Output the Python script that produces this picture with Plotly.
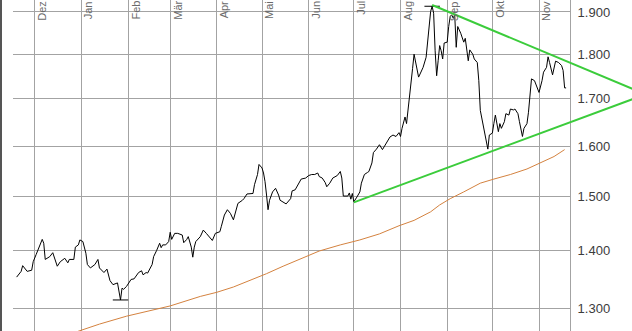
import numpy as np
import pandas as pd
import plotly.graph_objects as go

# ---------------- data ----------------
price_dates = [
    "2010-11-19", "2010-11-22", "2010-11-23", "2010-11-26", "2010-11-29", "2010-11-30",
    "2010-12-02", "2010-12-05", "2010-12-06", "2010-12-07", "2010-12-08", "2010-12-11", "2010-12-13", "2010-12-16",
    "2010-12-18", "2010-12-21", "2010-12-23", "2010-12-24", "2010-12-27", "2010-12-28", "2010-12-30", "2010-12-31",
    "2011-01-02", "2011-01-04", "2011-01-05", "2011-01-07", "2011-01-10", "2011-01-12", "2011-01-13", "2011-01-16",
    "2011-01-18", "2011-01-20", "2011-01-22", "2011-01-25", "2011-01-26", "2011-01-27", "2011-01-28", "2011-01-29",
    "2011-01-31",
    "2011-02-02", "2011-02-03", "2011-02-05", "2011-02-07", "2011-02-08", "2011-02-10", "2011-02-11", "2011-02-13",
    "2011-02-14", "2011-02-17", "2011-02-18", "2011-02-20", "2011-02-21", "2011-02-22", "2011-02-23", "2011-02-24",
    "2011-02-26", "2011-02-28",
    "2011-03-01", "2011-03-02", "2011-03-04", "2011-03-06", "2011-03-09", "2011-03-10", "2011-03-12", "2011-03-13",
    "2011-03-15", "2011-03-16", "2011-03-17", "2011-03-18", "2011-03-21", "2011-03-23", "2011-03-25", "2011-03-27",
    "2011-03-29", "2011-03-31",
    "2011-04-03", "2011-04-04", "2011-04-05", "2011-04-06", "2011-04-08", "2011-04-10", "2011-04-12", "2011-04-14",
    "2011-04-15", "2011-04-18", "2011-04-19", "2011-04-21", "2011-04-25", "2011-04-26", "2011-04-28", "2011-04-29",
    "2011-05-01", "2011-05-02", "2011-05-03", "2011-05-04", "2011-05-05", "2011-05-06", "2011-05-08", "2011-05-10",
    "2011-05-12", "2011-05-13", "2011-05-15", "2011-05-17", "2011-05-20", "2011-05-21", "2011-05-23", "2011-05-25",
    "2011-05-27", "2011-05-30",
    "2011-06-01", "2011-06-03", "2011-06-05", "2011-06-07", "2011-06-08", "2011-06-10", "2011-06-12", "2011-06-13",
    "2011-06-15", "2011-06-17", "2011-06-20", "2011-06-22", "2011-06-23", "2011-06-24", "2011-06-27", "2011-06-28",
    "2011-06-29", "2011-06-30",
    "2011-07-01", "2011-07-03", "2011-07-05", "2011-07-06", "2011-07-08", "2011-07-10", "2011-07-11", "2011-07-13",
    "2011-07-14", "2011-07-16", "2011-07-18", "2011-07-20", "2011-07-21", "2011-07-23", "2011-07-25", "2011-07-27",
    "2011-07-29", "2011-07-31",
    "2011-08-01", "2011-08-02", "2011-08-04", "2011-08-05", "2011-08-06", "2011-08-07", "2011-08-08", "2011-08-09",
    "2011-08-10", "2011-08-11", "2011-08-12", "2011-08-13", "2011-08-14", "2011-08-16", "2011-08-18", "2011-08-19",
    "2011-08-20", "2011-08-21", "2011-08-22", "2011-08-23", "2011-08-24", "2011-08-25", "2011-08-26", "2011-08-27",
    "2011-08-28", "2011-08-29", "2011-08-30",
    "2011-09-01", "2011-09-02", "2011-09-03", "2011-09-04", "2011-09-05", "2011-09-06", "2011-09-07", "2011-09-08",
    "2011-09-10", "2011-09-12", "2011-09-13", "2011-09-15", "2011-09-16", "2011-09-18", "2011-09-19", "2011-09-21",
    "2011-09-22", "2011-09-23", "2011-09-25", "2011-09-26", "2011-09-27", "2011-09-28", "2011-09-29",
    "2011-10-01", "2011-10-02", "2011-10-03", "2011-10-05", "2011-10-06", "2011-10-07", "2011-10-09", "2011-10-10",
    "2011-10-12", "2011-10-13", "2011-10-15", "2011-10-16", "2011-10-18", "2011-10-19", "2011-10-20", "2011-10-21",
    "2011-10-22", "2011-10-24", "2011-10-25", "2011-10-26", "2011-10-27", "2011-10-29", "2011-10-31",
    "2011-11-01", "2011-11-03", "2011-11-04", "2011-11-06", "2011-11-07", "2011-11-08", "2011-11-10", "2011-11-12",
    "2011-11-14", "2011-11-16", "2011-11-17", "2011-11-18", "2011-11-19",
]
price_values = [
    1353, 1363, 1373, 1363, 1365, 1380,
    1393, 1416, 1420, 1413, 1384, 1389, 1396, 1372, 1380, 1386, 1378, 1384, 1384, 1406, 1410, 1419,
    1416, 1395, 1375, 1369, 1375, 1384, 1369, 1361, 1367, 1347, 1340, 1343, 1330, 1314, 1334, 1332, 1337,
    1346, 1349, 1350, 1357, 1361, 1364, 1357, 1361, 1360, 1375, 1389, 1400, 1406, 1413, 1405, 1410, 1410, 1416,
    1433, 1420, 1431, 1431, 1428, 1414, 1420, 1425, 1406, 1388, 1406, 1416, 1425, 1437, 1431, 1424, 1418, 1431,
    1434, 1444, 1456, 1465, 1475, 1468, 1456, 1478, 1487, 1493, 1496, 1505, 1506, 1523, 1543, 1563,
    1556, 1546, 1529, 1503, 1475, 1493, 1509, 1516, 1503, 1493, 1490, 1486, 1496, 1511, 1513, 1523, 1534, 1536,
    1541, 1543, 1543, 1546, 1539, 1536, 1527, 1519, 1526, 1536, 1541, 1549, 1536, 1501, 1501, 1507, 1495, 1506,
    1490, 1499, 1509, 1526, 1543, 1547, 1549, 1566, 1587, 1594, 1603, 1593, 1598, 1609, 1619, 1623, 1620, 1628,
    1620, 1637, 1661, 1647, 1675, 1695, 1725, 1767, 1800, 1781, 1759, 1748, 1755, 1770, 1793, 1833, 1865, 1901,
    1914, 1897, 1808, 1751, 1785, 1820, 1808, 1789, 1826,
    1828, 1865, 1889, 1893, 1885, 1893, 1816, 1865, 1849, 1828, 1837, 1785, 1810, 1800, 1789, 1781, 1740, 1675,
    1640, 1630, 1613, 1594, 1623,
    1627, 1647, 1665, 1630, 1647, 1637, 1651, 1668, 1665, 1678, 1676, 1678, 1668, 1651, 1637, 1620, 1637, 1647,
    1671, 1710, 1744, 1740, 1724,
    1714, 1740, 1759, 1770, 1794, 1781, 1753, 1784, 1781, 1774, 1763, 1724, 1724,
]

ma_dates = [
    "2010-12-27", "2011-01-13", "2011-01-31", "2011-02-16", "2011-03-01", "2011-03-21", "2011-04-01", "2011-04-12",
    "2011-04-25", "2011-05-04", "2011-05-15", "2011-05-26", "2011-06-08", "2011-06-22", "2011-07-05", "2011-07-18",
    "2011-07-31", "2011-08-10", "2011-08-21", "2011-08-27", "2011-09-03", "2011-09-12", "2011-09-23", "2011-10-02",
    "2011-10-13", "2011-10-24", "2011-11-02", "2011-11-11", "2011-11-18",
]
ma_values = [
    1260, 1274, 1287, 1297, 1304, 1320, 1327, 1336,
    1349, 1359, 1372, 1384, 1399, 1410, 1419, 1430,
    1445, 1455, 1471, 1484, 1496, 1509, 1526, 1534,
    1543, 1554, 1567, 1579, 1593,
]

trend_upper_dates = ["2011-08-22", "2012-01-02 19:00"]
trend_upper_values = [1917, 1721]
trend_lower_dates = ["2011-07-01", "2012-01-02 19:00"]
trend_lower_values = [1489, 1700]

month_dates = ["2010-12-01", "2011-01-01", "2011-02-01", "2011-03-01", "2011-04-01", "2011-05-01",
               "2011-06-01", "2011-07-01", "2011-08-01", "2011-09-01", "2011-10-01", "2011-11-01"]
month_labels = ["Dez", "Jan", "Feb", "Mär", "Apr", "Mai", "Jun", "Jul", "Aug", "Sep", "Okt", "Nov"]
y_ticks = [1300, 1400, 1500, 1600, 1700, 1800, 1900]

# ---------------- layout geometry ----------------
W, H = 632, 331
LEFT = 13          # plot area left edge (px)
PLOT_RIGHT = 570   # plot area right edge (px)
x_start = pd.Timestamp("2010-11-16 14:00")
x_end = pd.Timestamp("2011-11-21 14:00")
y_range = [np.log10(1262.8), np.log10(1929.4)]
frac = (PLOT_RIGHT - LEFT) / (W - LEFT)
x2_end = x_start + (x_end - x_start) / frac

FONT = "Liberation Sans, Arial, sans-serif"
GRID = "#a3a3a3"

fig = go.Figure()

fig.add_trace(go.Scatter(x=ma_dates, y=ma_values, mode="lines",
                         line=dict(color="#d4823f", width=1), hoverinfo="skip"))
fig.add_trace(go.Scatter(x=price_dates, y=price_values, mode="lines",
                         line=dict(color="#000000", width=1), hoverinfo="skip"))

s = pd.Series(price_values, index=pd.to_datetime(price_dates))
ext_x = [s.idxmin(), s.idxmax()]
ext_y = [s.min(), s.max()]
fig.add_trace(go.Scatter(x=ext_x, y=ext_y, mode="markers",
                         marker=dict(symbol="line-ew", size=11, color="#000",
                                     line=dict(color="#000", width=1)),
                         hoverinfo="skip"))

for dts, vals in [(trend_upper_dates, trend_upper_values), (trend_lower_dates, trend_lower_values)]:
    fig.add_trace(go.Scatter(x=dts, y=vals, mode="lines", xaxis="x2", yaxis="y2",
                             line=dict(color="#3bcc3b", width=2), hoverinfo="skip"))

annotations = []
for d, lab in zip(month_dates, month_labels):
    annotations.append(dict(x=d, y=1, xref="x", yref="paper", text=lab, showarrow=False,
                            textangle=-90, xanchor="left", yanchor="top", borderpad=0,
                            xshift=0, font=dict(family=FONT, size=11, color="#6a6a6a")))

fig.update_layout(
    width=W, height=H,
    margin=dict(l=LEFT, r=0, t=0, b=0, pad=0),
    paper_bgcolor="white", plot_bgcolor="rgba(0,0,0,0)",
    showlegend=False,
    separators=",.",
    font=dict(family=FONT),
    xaxis=dict(type="date", range=[x_start, x_end], domain=[0, frac],
               tickvals=month_dates, showticklabels=False, ticks="",
               showgrid=True, gridcolor=GRID, gridwidth=1, zeroline=False, showline=False,
               anchor="y"),
    yaxis=dict(type="log", range=y_range, side="right", tickvals=y_ticks, tickformat=",.0f",
               showgrid=True, gridcolor=GRID, gridwidth=1, zeroline=False,
               showline=True, linecolor=GRID, linewidth=1, ticks="", ticklabelstandoff=4,
               tickfont=dict(family=FONT, size=13, color="#3c3c3c"), anchor="x"),
    xaxis2=dict(type="date", range=[x_start, x2_end], domain=[0, 1], visible=False, anchor="y2"),
    yaxis2=dict(type="log", range=y_range, domain=[0, 1], visible=False, anchor="x2"),
    annotations=annotations,
    shapes=[dict(type="line", xref="paper", yref="paper",
                 x0=(1 - LEFT) / (W - LEFT), x1=(1 - LEFT) / (W - LEFT), y0=0, y1=1,
                 line=dict(color="#555555", width=2))],
)

fig.write_html("out.html")
